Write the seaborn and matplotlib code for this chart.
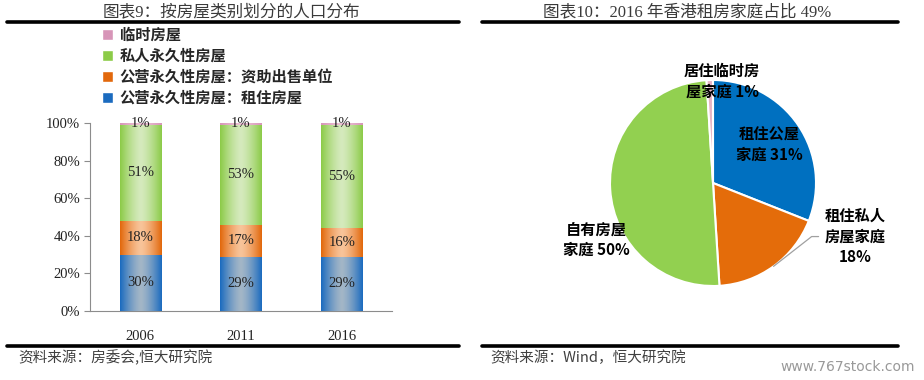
import numpy as np
import pandas as pd
import matplotlib
matplotlib.use('Agg')
import matplotlib.pyplot as plt
import seaborn as sns
from matplotlib.patches import Patch
from matplotlib.lines import Line2D
from matplotlib.colors import to_rgb

# left chart: population share by housing type (%)
years = ['2006', '2011', '2016']
layer_names = ['公营永久性房屋：租住房屋', '公营永久性房屋：资助出售单位', '私人永久性房屋', '临时房屋']
rent_public = [29.8, 28.8, 28.9]
subsidised = [18.1, 16.9, 15.5]
private = [51.2, 53.4, 54.7]
temporary = [0.9, 0.9, 0.9]

# right chart: households 2016 (%)
pie_labels = ['租住公屋\n家庭 31%', '租住私人\n房屋家庭\n18%', '自有房屋\n家庭 50%', '居住临时房\n屋家庭 1%']
pie_values = [31, 18, 50, 1]

edge_cols = ['#1b6bbf', '#e2680c', '#8ccb48', '#d795b8']
mid_cols = ['#a3b6c7', '#f8c49a', '#d5eabd', '#ebc0d4']
pie_cols = ['#0070c0', '#e46c0a', '#92d050', '#e8b4c4']

sns.set_theme(style='white')
plt.rcParams['font.family'] = ['Liberation Serif', 'Noto Sans CJK SC']
CJK = ['Noto Sans CJK SC', 'DejaVu Sans']
SER = ['Liberation Serif', 'Noto Sans CJK SC']

fig = plt.figure(figsize=(9.24, 3.8), dpi=100)

# ---- stacked bars
ax = fig.add_axes([90 / 924, 69 / 380, 302 / 924, 188 / 380])
df = pd.DataFrame({'year': years, 'rent': rent_public, 'sub': subsidised,
                   'priv': private, 'temp': temporary})
cols = ['rent', 'sub', 'priv', 'temp']
cum = df[cols].cumsum(axis=1)

layer_patches = {}
for i in reversed(range(4)):
    n0 = len(ax.patches)
    sns.barplot(x=df['year'], y=cum[cols[i]], color=edge_cols[i], width=0.41,
                saturation=1, ax=ax)
    layer_patches[i] = ax.patches[n0:]

def gradient(c_edge, c_mid, n=80):
    x = np.linspace(-1, 1, n)
    t = 1 - np.abs(x) ** 1.4
    e, m = np.array(to_rgb(c_edge)), np.array(to_rgb(c_mid))
    return (e[None, :] * (1 - t[:, None]) + m[None, :] * t[:, None])[None, :, :]

for i in range(4):
    for j, p in enumerate(layer_patches[i]):
        bottom = cum[cols[i - 1]].iloc[j] if i > 0 else 0
        top = min(cum[cols[i]].iloc[j], 100)
        ax.imshow(gradient(edge_cols[i], mid_cols[i]), aspect='auto',
                  extent=(p.get_x(), p.get_x() + p.get_width(), bottom, top),
                  zorder=3, interpolation='bilinear')
        val = df[cols[i]].iloc[j]
        yc = min((bottom + top) / 2, 99.55)
        ax.text(p.get_x() + p.get_width() / 2, yc, f'{val:.0f}%', ha='center',
                va='center', fontsize=10.5, color='#222222', family=SER, zorder=5)

ax.set_xlim(-0.5, 2.5)
ax.set_ylim(0, 100)
ax.set_yticks(range(0, 101, 20))
ax.set_yticklabels([f'{v}%' for v in range(0, 101, 20)])
ax.set_xlabel('')
ax.set_ylabel('')
for s in ['top', 'right']:
    ax.spines[s].set_visible(False)
for s in ['left', 'bottom']:
    ax.spines[s].set_color('#8c8c8c')
    ax.spines[s].set_linewidth(0.8)
ax.tick_params(axis='y', left=True, length=4, width=0.8, color='#8c8c8c',
               labelsize=10.5, pad=3, labelcolor='#222222')
ax.tick_params(axis='x', bottom=False, labelsize=10.5, pad=8, labelcolor='#222222')
ax.grid(False)

handles = [Patch(facecolor=edge_cols[i]) for i in [3, 2, 1, 0]]
labels = [layer_names[i] for i in [3, 2, 1, 0]]
fig.legend(handles, labels, loc='upper left', bbox_to_anchor=(102 / 924, 1 - 27 / 380),
           frameon=False, prop={'family': CJK, 'weight': 'bold', 'size': 11},
           handlelength=0.7, handleheight=0.7, handletextpad=0.45,
           labelspacing=0.33, borderaxespad=0, borderpad=0)

# ---- pie
ax2 = fig.add_axes([(713 - 103) / 924, (380 - 183 - 103) / 380, 206 / 924, 206 / 380])
wedges, _ = ax2.pie(pie_values, colors=pie_cols, startangle=90, counterclock=False,
                    wedgeprops=dict(edgecolor='white', linewidth=1.5))
ax2.set_xlim(-1, 1)
ax2.set_ylim(-1, 1)

label_pos = [(0.55, 0.37), (1.38, -0.52), (-1.13, -0.55), (0.09, 0.99)]
for k, (lab, pos) in enumerate(zip(pie_labels, label_pos)):
    if k == 1:
        w = wedges[k]
        ang = np.deg2rad((w.theta1 + w.theta2) / 2)
        ax2.annotate(lab, xy=(np.cos(ang), np.sin(ang)), xytext=pos,
                     ha='center', va='center', fontsize=11, fontweight='bold',
                     family=CJK, linespacing=1.35, color='black', annotation_clip=False,
                     arrowprops=dict(arrowstyle='-', color='#a0a0a0', lw=0.9,
                                     connectionstyle='angle,angleA=0,angleB=38,rad=0',
                                     shrinkA=2, shrinkB=0))
    else:
        ax2.text(pos[0], pos[1], lab, ha='center', va='center', fontsize=11,
                 fontweight='bold', family=CJK, linespacing=1.35, color='black',
                 clip_on=False, zorder=6)

# ---- titles, rules, sources
fig.text(231 / 924, 1 - 12 / 380, '图表9：按房屋类别划分的人口分布', ha='center', va='center',
         fontsize=12, color='#3a3a3a', family=SER)
fig.text(687 / 924, 1 - 12 / 380, '图表10：2016 年香港租房家庭占比 49%', ha='center', va='center',
         fontsize=12, color='#3a3a3a', family=SER)
for x0, x1 in [(7, 459), (482, 898)]:
    for yy in (22, 346):
        fig.add_artist(Line2D([x0 / 924, x1 / 924], [1 - yy / 380] * 2, color='black', lw=2.6))
fig.text(18 / 924, 1 - 358 / 380, '资料来源：房委会,恒大研究院', ha='left', va='center',
         fontsize=10.5, color='#404040', family=CJK, style='italic')
fig.text(490 / 924, 1 - 358 / 380, '资料来源：Wind，恒大研究院', ha='left', va='center',
         fontsize=10.5, color='#404040', family=CJK, style='italic')
fig.text(848 / 924, 1 - 367 / 380, 'www.767stock.com', ha='center', va='center',
         fontsize=10, color='#999999', family=['DejaVu Sans'])

fig.savefig('out.png', dpi=100)
